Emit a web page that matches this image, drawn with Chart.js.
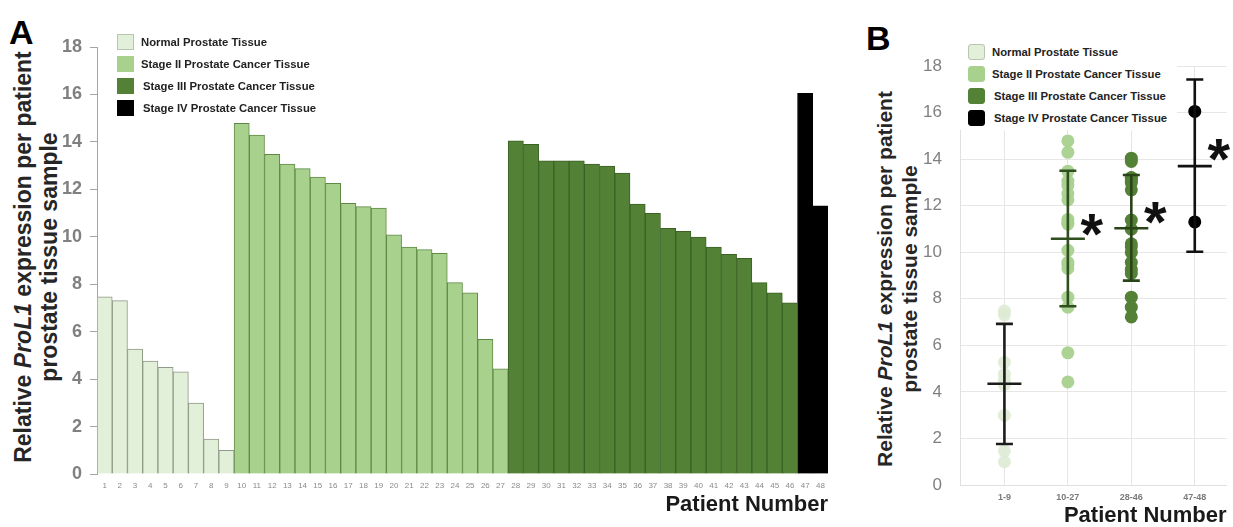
<!DOCTYPE html>
<html>
<head>
<meta charset="utf-8">
<script src="https://cdn.jsdelivr.net/npm/chart.js@4.4.0/dist/chart.umd.min.js"></script>
<style>
  body { margin: 0; background: #fff; width: 1233px; height: 527px; position: relative; overflow: hidden;
         font-family: 'Liberation Sans', Arial, sans-serif; }
  #boxA { position: absolute; left: 0; top: 0; width: 845px; height: 527px; }
  #boxB { position: absolute; left: 850px; top: 0; width: 383px; height: 527px; }
  .panel { position: absolute; font-weight: bold; font-size: 34px; line-height: 34px; color: #000; }
  .ytitle { position: absolute; width: 460px; height: 52px; text-align: center; font-weight: bold;
            font-size: 21px; line-height: 25px; color: #262626; transform: rotate(-90deg); white-space: nowrap; }
  .legend { position: absolute; background: #fff; }
  .legend .row { display: flex; align-items: center; height: 22px; font-size: 11.3px; font-weight: bold; color: #222; }
  .legend .sw { width: 17px; height: 16px; margin-right: 7px; box-sizing: border-box; flex: none; }
</style>
</head>
<body>
<div class="panel" style="left:9px; top:15px;">A</div>
<div class="panel" style="left:866px; top:21px;">B</div>

<div class="ytitle" style="left:-194px; top:231px; font-size:23px; line-height:26px;">Relative <i>ProL1</i> expression per patient<br>prostate tissue sample</div>
<div class="ytitle" style="left:668px; top:253px;">Relative <i>ProL1</i> expression per patient<br>prostate tissue sample</div>

<div id="boxA"><canvas id="chartA"></canvas></div>
<div id="boxB"><canvas id="chartB"></canvas></div>

<div class="legend" id="legendA" style="left:117px; top:31px;"></div>
<div class="legend" id="legendB" style="left:955px; top:30px; width:222px; height:100px; padding:11px 0 0 13px; box-sizing:border-box;"></div>

<script>
// values (relative ProL1 expression per patient)
const patientLabels = ['1','2','3','4','5','6','7','8','9','10','11','12','13','14','15','16','17','18','19','20',
  '21','22','23','24','25','26','27','28','29','30','31','32','33','34','35','36','37','38','39','40',
  '41','42','43','44','45','46','47','48'];

const seriesNames = ['Normal Prostate Tissue', 'Stage II Prostate Cancer Tissue',
  'Stage III Prostate Cancer Tissue', 'Stage IV Prostate Cancer Tissue'];

const normalValues = [7.47, 7.31, 5.27, 4.76, 4.50, 4.31, 2.99, 1.47, 1.00];
const stage2Values = [14.78, 14.29, 13.48, 13.06, 12.87, 12.52, 12.25, 11.41, 11.27, 11.21,
  10.08, 9.57, 9.46, 9.30, 8.07, 7.64, 5.68, 4.43];
const stage3Values = [14.04, 13.90, 13.20, 13.20, 13.20, 13.06, 12.98, 12.68, 11.38, 10.99,
  10.36, 10.23, 9.99, 9.57, 9.26, 9.09, 8.07, 7.64, 7.22];
const stage4Values = [16.05, 11.30];

// panel B groups, means and SD bar ends
const groupLabels = ['1-9', '10-27', '28-46', '47-48'];
const groupMeans = [4.35, 10.58, 11.03, 13.70];
const sdLow = [1.76, 7.68, 8.78, 10.02];
const sdHigh = [6.92, 13.50, 13.32, 17.42];
const significant = [false, true, true, true];

const fillColors = ['#e2efd9', '#a9d18e', '#538135', '#000000'];
const barBorders = ['#8e9987', '#5f8a45', '#3b6224', '#000000'];
const pointColors = ['rgba(222,235,212,0.9)', 'rgba(169,209,142,0.95)', '#538135', '#000000'];
const errColors = ['#1c1c1c', '#2f4f1e', '#2a4419', '#111111'];

const allSeries = [normalValues, stage2Values, stage3Values, stage4Values];

Chart.defaults.font.family = "'Liberation Sans', Arial, sans-serif";
Chart.defaults.animation = false;

// ---------- legends ----------
function buildLegend(id, square) {
  const el = document.getElementById(id);
  seriesNames.forEach((name, i) => {
    const row = document.createElement('div');
    row.className = 'row';
    const sw = document.createElement('div');
    sw.className = 'sw';
    sw.style.background = fillColors[i];
    sw.style.border = '1px solid ' + (i === 0 ? '#b9c4b2' : fillColors[i]);
    if (!square) sw.style.borderRadius = '3px';
    const txt = document.createElement('span');
    txt.textContent = name;
    if (i >= 2) txt.style.marginLeft = '2px';
    row.appendChild(sw);
    row.appendChild(txt);
    el.appendChild(row);
  });
}
buildLegend('legendA', true);
buildLegend('legendB', false);

// ---------- panel A ----------
let offset = 0;
const barSets = allSeries.map((vals, i) => {
  const arr = new Array(patientLabels.length).fill(null);
  vals.forEach((v, j) => { arr[offset + j] = v; });
  offset += vals.length;
  return {
    label: seriesNames[i],
    data: arr,
    backgroundColor: fillColors[i],
    borderColor: barBorders[i],
    borderWidth: 1,
    barPercentage: 1,
    categoryPercentage: 1
  };
});

new Chart(document.getElementById('chartA'), {
  type: 'bar',
  data: { labels: patientLabels, datasets: barSets },
  options: {
    responsive: true,
    maintainAspectRatio: false,
    layout: { padding: { top: 47, right: 17, bottom: 0, left: 0 } },
    plugins: { legend: { display: false }, tooltip: { enabled: false } },
    scales: {
      x: {
        stacked: true,
        grid: { display: false, drawTicks: false },
        border: { display: false },
        ticks: { autoSkip: false, maxRotation: 0, padding: 7, color: '#8a8a8a', font: { size: 8 } },
        title: { display: true, text: 'Patient Number', align: 'end', color: '#1a1a1a',
                 font: { size: 22, weight: 'bold', lineHeight: 1 }, padding: { top: 0, bottom: 11 } },
        afterFit(scale) { scale.height = 53; }
      },
      y: {
        stacked: true,
        min: 0, max: 18,
        ticks: { stepSize: 2, padding: 8, color: '#808080', font: { size: 18, weight: 'bold' } },
        grid: { drawOnChartArea: false, drawTicks: true, tickLength: 7, color: '#a6a6a6' },
        border: { display: true, color: '#a6a6a6', width: 1 },
        afterFit(scale) { scale.width = 97; }
      }
    }
  }
});

// ---------- panel B ----------
const errorBars = {
  id: 'errorBars',
  afterDatasetsDraw(chart) {
    const { ctx, scales: { x, y } } = chart;
    ctx.save();
    ctx.lineWidth = 2.6;
    groupMeans.forEach((m, i) => {
      const px = x.getPixelForValue(i + 1);
      const yTop = y.getPixelForValue(sdHigh[i]);
      const yBot = y.getPixelForValue(sdLow[i]);
      const yMean = y.getPixelForValue(m);
      ctx.strokeStyle = errColors[i];
      ctx.beginPath();
      ctx.moveTo(px, yTop); ctx.lineTo(px, yBot);
      ctx.moveTo(px - 8.5, yTop); ctx.lineTo(px + 8.5, yTop);
      ctx.moveTo(px - 8.5, yBot); ctx.lineTo(px + 8.5, yBot);
      ctx.moveTo(px - 17, yMean); ctx.lineTo(px + 17, yMean);
      ctx.stroke();
    });
    // significance asterisks
    ctx.fillStyle = '#111';
    ctx.font = "bold 58px 'Liberation Sans', Arial, sans-serif";
    ctx.textAlign = 'center';
    ctx.textBaseline = 'alphabetic';
    const starLevels = [0, 11.17, 11.68, 14.39];
    significant.forEach((s, i) => {
      if (!s) return;
      const px = x.getPixelForValue(i + 1) + 24;
      const py = y.getPixelForValue(starLevels[i]);
      ctx.fillText('*', px, py + 29);
    });
    ctx.restore();
  }
};

const pointSets = allSeries.map((vals, i) => ({
  label: seriesNames[i],
  data: vals.map(v => ({ x: i + 1, y: v })),
  backgroundColor: pointColors[i],
  borderWidth: 0,
  pointRadius: 6.5,
  pointHoverRadius: 6.5
}));

new Chart(document.getElementById('chartB'), {
  type: 'scatter',
  data: { datasets: pointSets },
  plugins: [errorBars],
  options: {
    responsive: true,
    maintainAspectRatio: false,
    layout: { padding: { top: 66, right: 0, bottom: 0, left: 0 } },
    plugins: { legend: { display: false }, tooltip: { enabled: false } },
    scales: {
      x: {
        type: 'linear',
        min: 0.3, max: 4.5,
        afterBuildTicks(scale) { scale.ticks = groupLabels.map((l, i) => ({ value: i + 1 })); },
        ticks: { padding: 7, color: '#7a7a7a', font: { size: 9, weight: 'bold' },
                 callback: v => groupLabels[v - 1] },
        grid: { color: '#e6e6e6', drawTicks: false },
        border: { display: true, color: '#e0e0e0' },
        title: { display: true, text: 'Patient Number', align: 'end', color: '#1a1a1a',
                 font: { size: 22, weight: 'bold', lineHeight: 1 }, padding: { top: 0, bottom: 0 } },
        afterFit(scale) { scale.height = 42; }
      },
      y: {
        min: 0, max: 18,
        ticks: { stepSize: 2, padding: 18, color: '#808080', font: { size: 17 } },
        grid: { color: '#e6e6e6', drawTicks: false },
        border: { display: true, color: '#e0e0e0' },
        afterFit(scale) { scale.width = 110; }
      }
    }
  }
});
</script>
</body>
</html>
